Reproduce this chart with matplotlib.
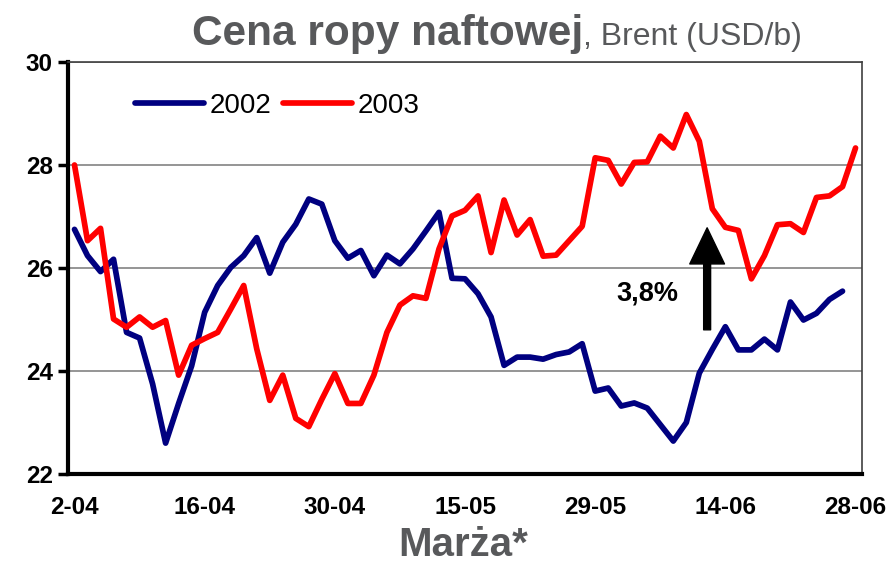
import matplotlib.pyplot as plt

plt.rcParams['font.family'] = ['Liberation Sans', 'DejaVu Sans']

# Brent price, daily (trading days), April-June
y2002 = [26.75, 26.24, 25.93, 26.17, 24.75, 24.64, 23.75, 22.6, 23.37, 24.1,
         25.14, 25.66, 26.01, 26.24, 26.59, 25.9, 26.5, 26.85, 27.34, 27.24,
         26.53, 26.19, 26.34, 25.85, 26.25, 26.08, 26.37, 26.72, 27.08, 25.8,
         25.79, 25.5, 25.05, 24.11, 24.27, 24.27, 24.23, 24.32, 24.37, 24.53,
         23.61, 23.67, 23.32, 23.38, 23.28, 22.96, 22.64, 23.0, 23.96, 24.42,
         24.86, 24.41, 24.41, 24.62, 24.41, 25.34, 24.99, 25.12, 25.39, 25.55]
y2003 = [28.0, 26.53, 26.77, 25.01, 24.85, 25.05, 24.85, 24.98, 23.92, 24.5,
         24.63, 24.75, 25.2, 25.66, 24.43, 23.43, 23.92, 23.08, 22.92, 23.45,
         23.95, 23.37, 23.37, 23.92, 24.75, 25.28, 25.46, 25.41, 26.37, 27.01,
         27.12, 27.4, 26.3, 27.32, 26.64, 26.94, 26.23, 26.25, 26.53, 26.81,
         28.14, 28.09, 27.63, 28.05, 28.06, 28.56, 28.33, 28.98, 28.46, 27.15,
         26.79, 26.73, 25.79, 26.24, 26.84, 26.86, 26.69, 27.37, 27.4, 27.58,
         28.33]
tick_pos = [0, 10, 20, 30, 40, 50, 60]
tick_labels = ['2-04', '16-04', '30-04', '15-05', '29-05', '14-06', '28-06']
y_ticks = [22, 24, 26, 28, 30]

gray_text = '#58595b'

fig = plt.figure(figsize=(8.91, 5.66), dpi=100)
ax = fig.add_axes([0.0763, 0.1625, 0.8912, 0.728])

ax.plot(range(len(y2002)), y2002, color='#000080', lw=4.1,
        solid_joinstyle='round', solid_capstyle='round', label='2002', zorder=3)
ax.plot(range(len(y2003)), y2003, color='#ff0000', lw=4.1,
        solid_joinstyle='round', solid_capstyle='round', label='2003', zorder=3)

ax.set_xlim(-0.5, 60.5)
ax.set_ylim(22, 30)
ax.set_yticks(y_ticks)
ax.set_yticklabels([str(v) for v in y_ticks], fontsize=17.5, fontweight='bold')
ax.set_xticks(tick_pos)
ax.set_xticklabels(tick_labels, fontsize=17.5, fontweight='bold')
ax.tick_params(axis='x', length=0, pad=16)
ax.tick_params(axis='y', length=7, width=2.5, direction='out', pad=4)
ax.grid(axis='y', color='#8c8c8c', lw=1.3)
ax.set_axisbelow(True)

for side in ['left', 'bottom']:
    ax.spines[side].set_linewidth(3)
    ax.spines[side].set_color('black')
for side in ['top', 'right']:
    ax.spines[side].set_linewidth(1.2)
    ax.spines[side].set_color('#404040')

# arrow with the margin change
ax.annotate('', xy=(48.6, 26.78), xytext=(48.6, 24.8),
            arrowprops=dict(facecolor='black', edgecolor='black', width=5,
                            headwidth=25, headlength=26))
ax.text(44.0, 25.51, '3,8%', fontsize=19.5, fontweight='bold',
        ha='center', va='center')

leg = ax.legend(loc='upper left', bbox_to_anchor=(0.084, 0.925), ncol=2,
                frameon=False, fontsize=20, handlelength=2.5,
                handletextpad=0.2, columnspacing=0.4, borderaxespad=0,
                borderpad=0)

fig.text(583 / 891, 1 - 45 / 566, 'Cena ropy naftowej', fontsize=30.5,
         fontweight='bold', color=gray_text, ha='right', va='baseline')
fig.text(583 / 891, 1 - 45 / 566, ', Brent (USD/b)', fontsize=23,
         color=gray_text, ha='left', va='baseline')
fig.text(0.52, 1.5 / 566, 'Marża*', fontsize=29, fontweight='bold',
         color=gray_text, ha='center', va='bottom')

fig.savefig('out.png', dpi=100)
